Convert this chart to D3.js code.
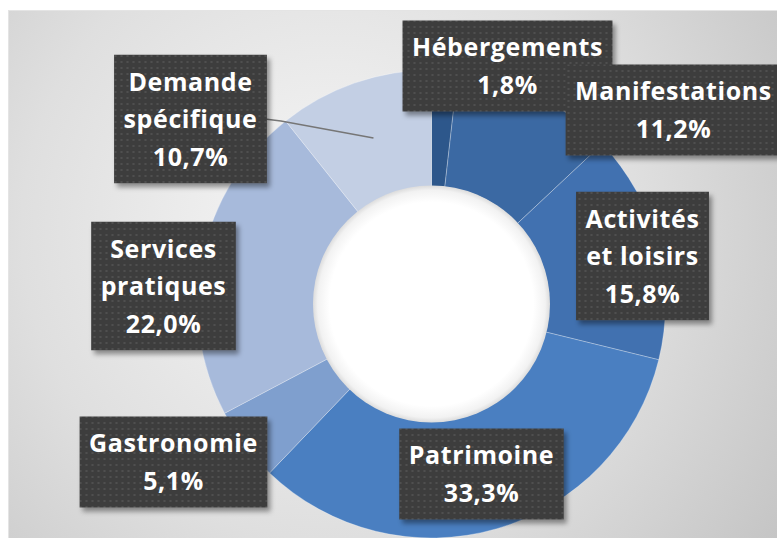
<!DOCTYPE html>
<html>
<head>
<meta charset="utf-8">
<script src="https://cdn.jsdelivr.net/npm/d3@7"></script>
<style>
  html, body { margin: 0; padding: 0; background: #fff; }
  svg { display: block; }
</style>
</head>
<body>
<svg id="chart" width="777" height="538"></svg>
<script>
// data (clockwise from 12 o'clock)
const categories = ['Hébergements', 'Manifestations', 'Activités\net loisirs', 'Patrimoine',
  'Gastronomie', 'Services\npratiques', 'Demande\nspécifique'];
const values = [1.8, 11.2, 15.8, 33.3, 5.1, 22.0, 10.7];
const colors = ['#2d578b', '#3b69a3', '#4171b0', '#4a7fc1', '#7f9fce', '#a7badb', '#c3cfe4'];

// where Excel left each label box (centre, relative to the donut centre)
const labelOffsets = [[76, -238], [242, -194], [211, -48], [50, 170],
  [-258, 158], [-268, -18], [-241, -185]];

const W = 777;
const H = 538;
const cx = 431.5;
const cy = 304;
const outerR = 234;
const innerR = 117.5;

const fmt = (v) => d3.format('.1f')(v).replace('.', ',') + '%';

const svg = d3.select('#chart');
const defs = svg.append('defs');

// background gradient of the chart area
const bg = defs.append('radialGradient')
  .attr('id', 'bg')
  .attr('gradientUnits', 'userSpaceOnUse')
  .attr('cx', 330).attr('cy', 230).attr('r', 560);
bg.append('stop').attr('offset', 0).attr('stop-color', '#f7f7f7');
bg.append('stop').attr('offset', 0.55).attr('stop-color', '#dfdfdf');
bg.append('stop').attr('offset', 1).attr('stop-color', '#c3c3c3');

// hole with soft grey rim
const hole = defs.append('radialGradient').attr('id', 'hole');
hole.append('stop').attr('offset', 0).attr('stop-color', '#ffffff');
hole.append('stop').attr('offset', 0.86).attr('stop-color', '#ffffff');
hole.append('stop').attr('offset', 0.96).attr('stop-color', '#f2f2f2');
hole.append('stop').attr('offset', 1).attr('stop-color', '#dcdcdc');

// dotted texture of the label boxes
const pat = defs.append('pattern')
  .attr('id', 'dots')
  .attr('patternUnits', 'userSpaceOnUse')
  .attr('width', 6).attr('height', 6);
pat.append('rect').attr('width', 6).attr('height', 6).attr('fill', '#3c3c3c');
pat.append('rect').attr('x', 2).attr('y', 2).attr('width', 2).attr('height', 2).attr('fill', '#4f4f4f');

const shadow = defs.append('filter')
  .attr('id', 'shadow')
  .attr('x', '-20%').attr('y', '-20%')
  .attr('width', '140%').attr('height', '140%');
shadow.append('feDropShadow')
  .attr('dx', 3).attr('dy', 4)
  .attr('stdDeviation', 2.5)
  .attr('flood-color', '#000')
  .attr('flood-opacity', 0.4);

// chart area
svg.append('rect')
  .attr('x', 8).attr('y', 10)
  .attr('width', W).attr('height', H)
  .attr('fill', '#e4e4e4');
svg.append('rect')
  .attr('x', 9).attr('y', 11)
  .attr('width', W).attr('height', H)
  .attr('fill', 'url(#bg)');

const g = svg.append('g').attr('transform', `translate(${cx}, ${cy})`);

const pie = d3.pie().sort(null).value((d) => d)(values);
const arc = d3.arc().innerRadius(innerR).outerRadius(outerR);

g.selectAll('path.slice')
  .data(pie)
  .enter()
  .append('path')
    .attr('class', 'slice')
    .attr('d', arc)
    .attr('fill', (d, i) => colors[i])
    .attr('stroke', '#ffffff')
    .attr('stroke-opacity', 0.35)
    .attr('stroke-width', 0.8);

g.append('circle')
  .attr('r', innerR + 1)
  .attr('fill', 'url(#hole)');

// labels
const lineH = 37.5;
const padX = 9.5;
const padY = 16;

const labels = g.selectAll('g.label')
  .data(pie)
  .enter()
  .append('g')
    .attr('class', 'label')
    .attr('transform', (d, i) => `translate(${labelOffsets[i][0]}, ${labelOffsets[i][1]})`);

labels.each(function (d, i) {
  const lab = d3.select(this);
  const lines = categories[i].split('\n').concat(fmt(values[i]));
  const box = lab.append('rect').attr('fill', 'url(#dots)').attr('filter', 'url(#shadow)');
  const text = lab.append('text')
    .attr('text-anchor', 'middle')
    .attr('fill', '#ffffff')
    .style('font-family', "'Open Sans', 'Noto Sans', sans-serif")
    .style('font-weight', 700)
    .style('font-size', '25px')
    .style('letter-spacing', '0.6px');
  const y0 = -(lines.length - 1) * lineH / 2;
  lines.forEach((t, k) => {
    text.append('tspan')
      .attr('x', 0)
      .attr('y', y0 + k * lineH)
      .attr('dy', '0.36em')
      .text(t);
  });
  const bw = text.node().getBBox().width + 2 * padX;
  const bh = lines.length * lineH + padY;
  box.attr('x', -bw / 2).attr('y', -bh / 2).attr('width', bw).attr('height', bh);
  d.boxW = bw;
});

// leader line for "Demande spécifique"
const last = pie.length - 1;
const [lx, ly] = labelOffsets[last];
const start = [lx + pie[last].boxW / 2 - 2, ly];
const c = arc.centroid(pie[last]);
g.insert('path', 'g.label')
  .attr('d', d3.line()([start, [start[0] + 16, start[1] + 2], c]))
  .attr('fill', 'none')
  .attr('stroke', '#767676')
  .attr('stroke-width', 1.5);
</script>
</body>
</html>
